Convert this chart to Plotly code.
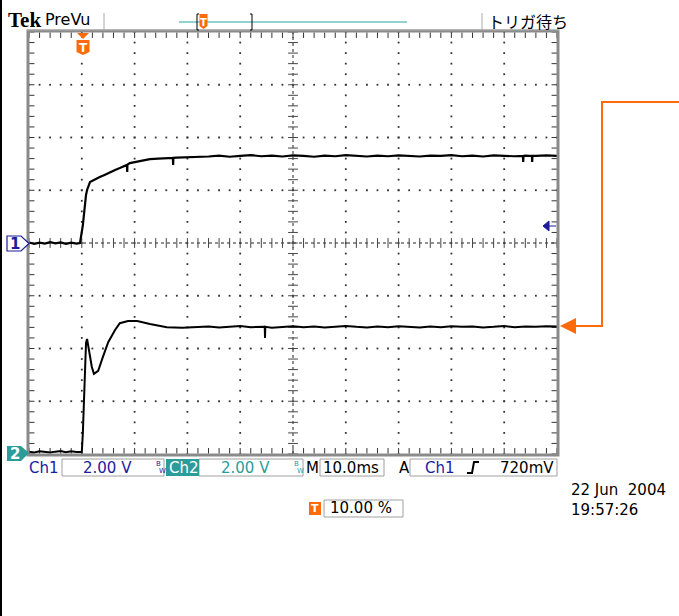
import plotly.graph_objects as go

# ---------------- data (time in ms, volts) ----------------
ch1_t = [0, 1, 2, 3, 4, 5, 6, 7, 8, 9, 9.66, 10.2, 10.8, 11.0, 11.55, 12.5, 13.4, 14.3,
         15.3, 16.2, 17.2, 18.1, 18.55, 18.6, 18.65, 19.1, 20.0, 21.0, 22.0, 22.9, 24.5,
         26.1, 27.25, 27.3, 27.35, 28.0, 30.0, 32.4,
         34, 36, 38, 40, 42, 44, 46, 48, 50, 52, 54, 56, 58, 60, 62, 64, 66, 68, 70,
         72, 74, 76, 78, 80, 82, 84, 86, 88, 90, 92, 93.55, 93.6, 93.65, 94,
         95.25, 95.3, 95.35, 96, 98, 100]
ch1_v = [0.02, -0.03, 0.01, -0.02, 0.03, -0.01, 0.02, -0.03, 0.01, -0.02, 0.0, 0.68,
         1.82, 2.01, 2.31, 2.42, 2.50, 2.58, 2.69, 2.76, 2.84, 2.93, 2.96, 2.69, 2.97,
         3.03, 3.07, 3.11, 3.14, 3.18, 3.20,
         3.22, 3.23, 2.96, 3.23, 3.24, 3.25, 3.26,
         3.28, 3.31, 3.27, 3.30, 3.33, 3.29, 3.31, 3.28, 3.32, 3.30, 3.27, 3.31, 3.29,
         3.33, 3.30, 3.28, 3.31, 3.29, 3.32, 3.30, 3.28, 3.31, 3.30, 3.33, 3.29, 3.31,
         3.28, 3.32, 3.30, 3.29, 3.30, 3.07, 3.30, 3.31,
         3.30, 3.07, 3.30, 3.30, 3.32, 3.30]

ch2_t = [0, 1, 2, 3, 4, 5, 6, 7, 8, 9, 10.0, 10.2, 10.6, 10.8, 11.0, 11.4, 11.9, 12.3,
         13.1, 14.0, 15.0, 16.3, 17.2, 18.75, 20.5, 22.9, 26.1, 29.0, 32.4,
         34, 36, 38, 40, 42, 44, 44.65, 44.7, 44.75, 46, 48, 50, 52, 54, 56, 58, 60,
         62, 64, 66, 68, 70, 72, 74, 76, 78, 80, 82, 84, 86, 88, 90, 92, 94, 96, 98, 100]
ch2_v = [0.01, -0.02, 0.02, 0.0, -0.02, 0.01, 0.03, -0.01, 0.02, 0.0, 0.0, 0.72, 3.22,
         4.13, 4.28, 3.86, 3.22, 2.96, 3.07, 3.60, 4.16, 4.62, 4.88, 4.96, 4.96, 4.85,
         4.73, 4.71, 4.73,
         4.75, 4.72, 4.74, 4.77, 4.73, 4.75, 4.74, 4.32, 4.74, 4.71, 4.74, 4.76, 4.73,
         4.75, 4.72, 4.74, 4.77, 4.74, 4.72, 4.75, 4.73, 4.76, 4.74, 4.72, 4.75, 4.73,
         4.76, 4.74, 4.75, 4.72, 4.74, 4.77, 4.73, 4.75, 4.74, 4.76, 4.75]

ch1_scale, ch1_pos = 2.0, 0.0      # V/div, div
ch2_scale, ch2_pos = 2.0, -3.96
time_per_div = 10.0               # ms/div

# ---------------- geometry helpers ----------------
W, H = 679, 616
L, R, T, B = 29, 557, 32, 454


def X(p):
    return (p - L) / (R - L)


def Y(p):
    return (B - p) / (B - T)


BLUE = "#1c1c9c"
TEAL = "#2a9d9a"
ORANGE = "#ff6a0a"
FONT = "DejaVu Sans"

fig = go.Figure()

# graticule dots
gx, gy = [], []
for d in [1, 2, 3, 4, 6, 7, 8, 9]:
    for k in range(-20, 21):
        gx.append(d * time_per_div)
        gy.append(k * 0.2)
for d in [-3, -2, -1, 1, 2, 3]:
    for k in range(0, 51):
        gx.append(k * time_per_div / 5)
        gy.append(d)
fig.add_trace(go.Scatter(x=gx, y=gy, mode="markers", hoverinfo="skip",
                         marker=dict(symbol="square", size=1.8, color="#333"),
                         showlegend=False))

# centre cross ticks
cx = [50] * 41
cy = [k * 0.2 for k in range(-20, 21)]
fig.add_trace(go.Scatter(x=cx, y=cy, mode="markers", hoverinfo="skip",
                         marker=dict(symbol="line-ew", size=7,
                                     line=dict(width=1, color="#444")),
                         showlegend=False))
hx = [k * 2 for k in range(0, 51)]
hy = [0] * 51
fig.add_trace(go.Scatter(x=hx, y=hy, mode="markers", hoverinfo="skip",
                         marker=dict(symbol="line-ns", size=7,
                                     line=dict(width=1, color="#444")),
                         showlegend=False))
# edge ticks
ex = [0.5] * 41 + [99.5] * 41
ey = cy + cy
fig.add_trace(go.Scatter(x=ex, y=ey, mode="markers", hoverinfo="skip",
                         marker=dict(symbol="line-ew", size=4,
                                     line=dict(width=1, color="#333")),
                         showlegend=False))
fx = hx + hx
fy = [3.94] * 51 + [-3.94] * 51
fig.add_trace(go.Scatter(x=fx, y=fy, mode="markers", hoverinfo="skip",
                         marker=dict(symbol="line-ns", size=4,
                                     line=dict(width=1, color="#333")),
                         showlegend=False))

# waveforms
fig.add_trace(go.Scatter(x=ch1_t, y=[v / ch1_scale + ch1_pos for v in ch1_v],
                         mode="lines", line=dict(color="black", width=2.2),
                         showlegend=False, name="Ch1"))
fig.add_trace(go.Scatter(x=ch2_t, y=[v / ch2_scale + ch2_pos for v in ch2_v],
                         mode="lines", line=dict(color="black", width=2),
                         showlegend=False, name="Ch2"))

shapes = []
# centre dotted lines
shapes.append(dict(type="line", xref="x", yref="y", x0=0, x1=100, y0=0, y1=0,
                   line=dict(color="#222", width=1, dash="dot"), layer="below"))
shapes.append(dict(type="line", xref="x", yref="y", x0=50, x1=50, y0=-4, y1=4,
                   line=dict(color="#222", width=1, dash="dot"), layer="below"))
# frame
shapes.append(dict(type="rect", xref="paper", yref="paper", x0=X(L - 1), x1=X(R + 1),
                   y0=Y(B + 1), y1=Y(T - 1), line=dict(color="#8a8a8a", width=3)))
# top grey line
shapes.append(dict(type="line", xref="paper", yref="paper", x0=X(27), x1=X(559),
                   y0=Y(30), y1=Y(30), line=dict(color="#aaa", width=1)))
# left black edge
shapes.append(dict(type="rect", xref="paper", yref="paper", x0=X(0), x1=X(2),
                   y0=Y(616), y1=Y(0), line=dict(width=0), fillcolor="black"))
# top separators
for sx in [104, 482]:
    shapes.append(dict(type="line", xref="paper", yref="paper", x0=X(sx), x1=X(sx),
                       y0=Y(13), y1=Y(30), line=dict(color="#aaa", width=1)))
# teal preview line
shapes.append(dict(type="line", xref="paper", yref="paper", x0=X(179), x1=X(407),
                   y0=Y(22), y1=Y(22), line=dict(color="#6cc4c4", width=1.5)))
# brackets
shapes.append(dict(type="path", xref="paper", yref="paper",
                   path=f"M{X(199)},{Y(14)} L{X(197)},{Y(14)} L{X(197)},{Y(30)} L{X(199)},{Y(30)}",
                   line=dict(color="black", width=1)))
shapes.append(dict(type="path", xref="paper", yref="paper",
                   path=f"M{X(250)},{Y(14)} L{X(252)},{Y(14)} L{X(252)},{Y(30)} L{X(250)},{Y(30)}",
                   line=dict(color="black", width=1)))


def tmark(cx, top, w, h, tri=True):
    out = []
    if tri:
        out.append(dict(type="path", xref="paper", yref="paper",
                        path=f"M{X(cx-6)},{Y(top)} L{X(cx+6)},{Y(top)} L{X(cx)},{Y(top+6)} Z",
                        fillcolor=ORANGE, line=dict(width=0)))
        top += 7
    x0, x1 = cx - w / 2, cx + w / 2
    out.append(dict(type="path", xref="paper", yref="paper",
                    path=(f"M{X(x0)},{Y(top)} L{X(x1)},{Y(top)} L{X(x1)},{Y(top+h-3)} "
                          f"L{X(cx)},{Y(top+h)} L{X(x0)},{Y(top+h-3)} Z"),
                    fillcolor=ORANGE, line=dict(width=0)))
    return out


shapes += tmark(83, 33, 13, 15)
shapes += tmark(203.5, 14, 8, 15, tri=False)
# bottom T box
shapes.append(dict(type="rect", xref="paper", yref="paper", x0=X(309), x1=X(321),
                   y0=Y(515), y1=Y(502), fillcolor=ORANGE, line=dict(width=0)))

# channel markers
shapes.append(dict(type="path", xref="paper", yref="paper",
                   path=f"M{X(7)},{Y(236)} L{X(21)},{Y(236)} L{X(29)},{Y(243.5)} L{X(21)},{Y(251)} L{X(7)},{Y(251)} Z",
                   fillcolor="white", line=dict(color=BLUE, width=1.2)))
shapes.append(dict(type="path", xref="paper", yref="paper",
                   path=f"M{X(7)},{Y(446)} L{X(21)},{Y(446)} L{X(29)},{Y(453)} L{X(21)},{Y(461)} L{X(7)},{Y(461)} Z",
                   fillcolor=TEAL, line=dict(width=0)))
# trigger level arrow (blue)
shapes.append(dict(type="path", xref="paper", yref="paper",
                   path=f"M{X(543)},{Y(226)} L{X(549)},{Y(221)} L{X(549)},{Y(231)} Z",
                   fillcolor=BLUE, line=dict(color=BLUE, width=1)))
shapes.append(dict(type="line", xref="paper", yref="paper", x0=X(548), x1=X(556),
                   y0=Y(226), y1=Y(226), line=dict(color=BLUE, width=1)))

# orange callout arrow
shapes.append(dict(type="path", xref="paper", yref="paper",
                   path=f"M{X(680)},{Y(102)} L{X(602)},{Y(102)} L{X(602)},{Y(326)} L{X(574)},{Y(326)}",
                   line=dict(color=ORANGE, width=2)))
shapes.append(dict(type="path", xref="paper", yref="paper",
                   path=f"M{X(560)},{Y(326)} L{X(576)},{Y(318)} L{X(576)},{Y(334)} Z",
                   fillcolor=ORANGE, line=dict(width=0)))

# status boxes
for x0, x1 in [(62, 164), (199, 303), (320, 384), (410, 557), (324, 403)]:
    y0, y1 = (459, 476) if x0 != 324 else (500, 517)
    shapes.append(dict(type="rect", xref="paper", yref="paper", x0=X(x0), x1=X(x1),
                       y0=Y(y1), y1=Y(y0), line=dict(color="#a0a0a0", width=1)))
shapes.append(dict(type="rect", xref="paper", yref="paper", x0=X(166), x1=X(199),
                   y0=Y(476), y1=Y(459), fillcolor=TEAL, line=dict(width=0)))
# trigger slope symbol
shapes.append(dict(type="path", xref="paper", yref="paper",
                   path=f"M{X(467)},{Y(473)} L{X(472)},{Y(473)} L{X(474)},{Y(462)} L{X(479)},{Y(462)}",
                   line=dict(color="black", width=2)))

ann = []


def txt(s, x, y, size=15, color="black", anchor="left", family=FONT, bold=False):
    if bold:
        s = f"<b>{s}</b>"
    ann.append(dict(text=s, xref="paper", yref="paper", x=X(x), y=Y(y),
                    xanchor=anchor, yanchor="middle", showarrow=False, align="left",
                    font=dict(size=size, color=color, family=family)))


txt("Tek", 6, 20, 21, bold=True, family="Liberation Serif")
txt("PreVu", 43, 20, 16, family=FONT)
txt("トリガ待ち", 486, 21, 16, family="Noto Sans CJK JP")
txt("T", 83.5, 48.5, 12, color="white", anchor="center", bold=True)
txt("T", 203.5, 22, 10, color="white", anchor="center", bold=True)
txt("T", 315, 508.5, 11, color="white", anchor="center", bold=True)
txt("1", 15, 243.5, 15, color=BLUE, anchor="center", bold=True)
txt("2", 15, 453.5, 15, color="white", anchor="center", bold=True)
txt("Ch1", 27, 467.5, 15, color=BLUE)
txt("2.00 V", 81, 467.5, 15, color=BLUE)
txt("B", 154, 464, 7, color=BLUE)
txt("W", 157, 471, 7, color=BLUE)
txt("Ch2", 166.5, 467.5, 15, color="white")
txt("2.00 V", 219, 467.5, 15, color=TEAL)
txt("B", 292, 464, 7, color=TEAL)
txt("W", 295, 471, 7, color=TEAL)
txt("M", 304, 467.5, 15)
txt("10.0ms", 321, 467.5, 15)
txt("A", 397, 467.5, 15)
txt("Ch1", 423, 467.5, 15, color=BLUE)
txt("720mV", 498, 467.5, 15)
txt("10.00 %", 328, 508.5, 15)
txt("22 Jun  2004<br>19:57:26", 569, 499.5, 15)

fig.update_layout(
    width=W, height=H,
    margin=dict(l=L, r=W - R, t=T, b=H - B, pad=0),
    paper_bgcolor="white", plot_bgcolor="white",
    xaxis=dict(range=[0, 10 * time_per_div], showgrid=False, zeroline=False,
               showticklabels=False, ticks="", fixedrange=True),
    yaxis=dict(range=[-4, 4], showgrid=False, zeroline=False,
               showticklabels=False, ticks="", fixedrange=True),
    shapes=shapes, annotations=ann, showlegend=False,
)
fig.write_html("out.html", config=dict(displayModeBar=False),
               post_script="document.body.style.margin='0';document.body.style.overflow='hidden';")
